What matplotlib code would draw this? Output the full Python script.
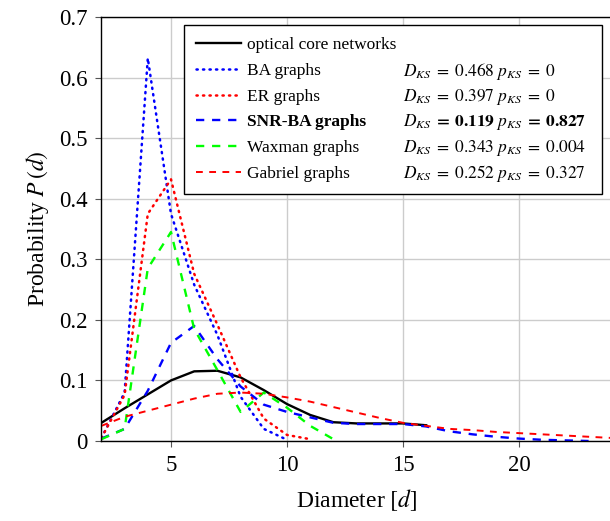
import matplotlib
matplotlib.use("Agg")
import matplotlib.pyplot as plt

plt.rcParams['font.family'] = 'Liberation Serif'
plt.rcParams['mathtext.fontset'] = 'stix'

# diameter distributions, one value per integer diameter starting at d = 2
diameter = list(range(2, 25))
optical = [0.030, 0.054, 0.077, 0.100, 0.115, 0.116, 0.105, 0.084, 0.061,
           0.043, 0.031, 0.029, 0.029, 0.029, 0.026]
ba = [0.005, 0.080, 0.632, 0.375, 0.258, 0.175, 0.073, 0.020, 0.002]
er = [0.005, 0.076, 0.375, 0.432, 0.276, 0.192, 0.105, 0.037, 0.010, 0.003]
snr_ba = [0.004, 0.020, 0.083, 0.162, 0.190, 0.135, 0.090, 0.060, 0.048,
          0.039, 0.030, 0.028, 0.028, 0.028, 0.024, 0.016, 0.011, 0.007,
          0.004, 0.002, 0.001, 0.000]
waxman = [0.003, 0.020, 0.285, 0.345, 0.185, 0.117, 0.048, 0.080, 0.055,
          0.025, 0.003]
gabriel = [0.025, 0.040, 0.050, 0.060, 0.070, 0.078, 0.080, 0.078, 0.072,
           0.065, 0.056, 0.047, 0.038, 0.030, 0.025, 0.020, 0.018, 0.015,
           0.013, 0.011, 0.009, 0.007, 0.005]

names = ['optical core networks', 'BA graphs', 'ER graphs', 'SNR-BA graphs',
         'Waxman graphs', 'Gabriel graphs']
d_ks = ['0.468', '0.397', '0.119', '0.343', '0.252']
p_ks = ['0', '0', '0.827', '0.004', '0.327']

xticks = [5, 10, 15, 20]
yticks = [0, 0.1, 0.2, 0.3, 0.4, 0.5, 0.6, 0.7]
ytick_labels = ['0', '0.1', '0.2', '0.3', '0.4', '0.5', '0.6', '0.7']

fig = plt.figure(figsize=(6.1, 5.21), dpi=100)
ax = fig.add_axes([101.4 / 610, 80 / 521, 510.4 / 610, 424 / 521])

dot = (0, (0.5, 2.1))
dash = (0, (3.5, 3.3))
ax.plot(diameter[:len(optical)], optical, color='black', lw=1.7, label=names[0])
ax.plot(diameter[:len(ba)], ba, color='#0000ff', lw=1.8, ls=dot,
        dash_capstyle='round', label=names[1])
ax.plot(diameter[:len(er)], er, color='#ff0000', lw=1.8, ls=dot,
        dash_capstyle='round', label=names[2])
ax.plot(diameter[:len(snr_ba)], snr_ba, color='#0000ff', lw=1.7, ls=dash,
        label=names[3])
ax.plot(diameter[:len(waxman)], waxman, color='#00ff00', lw=1.7, ls=dash,
        label=names[4])
ax.plot(diameter[:len(gabriel)], gabriel, color='#ff0000', lw=1.4, ls=dash,
        label=names[5])

ax.set_xlim(2, 24)
ax.set_ylim(0, 0.7)
ax.set_xticks(xticks)
ax.set_yticks(yticks)
ax.set_yticklabels(ytick_labels)
ax.tick_params(labelsize=16.5, direction='out', length=4, color='#555555', pad=6)
ax.grid(color='#cccccc', lw=1.0)
ax.set_axisbelow(True)
for s in ax.spines.values():
    s.set_color('black')
    s.set_linewidth(1.0)

ax.set_xlabel('Diameter $[d]$', fontsize=17, labelpad=8)
ax.set_ylabel('Probability $P\\,(d)$', fontsize=17, labelpad=6)

leg = ax.legend(loc='upper left', bbox_to_anchor=(0.162, 0.59, 0.818, 0.391),
                mode='expand', fancybox=False, edgecolor='black', framealpha=1,
                fontsize=12.5, handlelength=2.6, handletextpad=0.35,
                labelspacing=0.55, borderpad=0.7, borderaxespad=0)
leg.get_frame().set_linewidth(1.0)
leg.get_texts()[3].set_fontweight('bold')

# KS statistics next to each model entry, on top of the legend box
fig.canvas.draw()
inv = ax.transAxes.inverted()
for i, t in enumerate(leg.get_texts()[1:]):
    bb = t.get_window_extent()
    y = inv.transform((0, (bb.y0 + bb.y1) / 2))[1]
    body = 'D_{KS}\\;=\\;%s\\ p_{KS}\\;=\\;%s' % (d_ks[i], p_ks[i])
    if i == 2:
        body = '\\boldsymbol{%s}' % body
    ax.text(0.591, y, '$' + body + '$', transform=ax.transAxes, va='center',
            fontsize=12.5, zorder=10)

plt.savefig('out.png', dpi=100)
